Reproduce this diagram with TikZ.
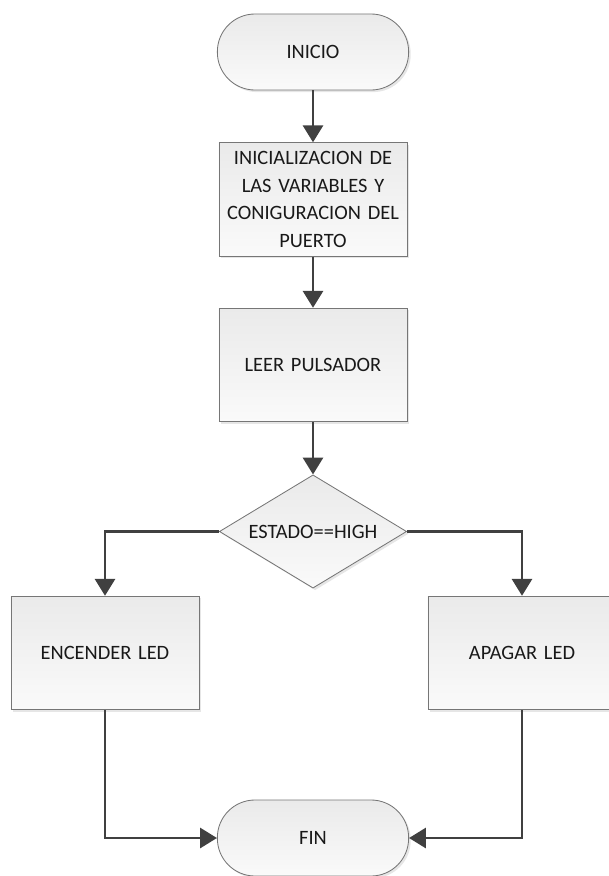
\documentclass[tikz,border=0pt]{standalone}
\usepackage{fontspec}
\setmainfont{Carlito}
\usepackage{tikz}
\usetikzlibrary{shapes.geometric, arrows.meta, positioning, shadows}
\definecolor{myline}{RGB}{64,64,64}
\definecolor{myborder}{RGB}{118,118,118}
\definecolor{mytop}{RGB}{234,234,234}
\definecolor{mybot}{RGB}{250,250,250}
\definecolor{mytext}{RGB}{25,25,25}
\tikzset{
  proc/.style={rectangle, draw=myborder, top color=mytop, bottom color=mybot,
    text width=4.5cm, align=center, minimum width=4.7cm, minimum height=2.84cm,
    font=\fontsize{14.5}{19.5}\selectfont, text=mytext, line width=0.6pt,
    inner sep=0pt, drop shadow={shadow xshift=1.5pt, shadow yshift=-1.5pt, opacity=0.2}},
  term/.style={rectangle, rounded corners=0.94cm, draw=myborder, top color=mytop, bottom color=mybot,
    align=center, minimum width=4.78cm, minimum height=1.9cm,
    font=\fontsize{14.5}{19.5}\selectfont, text=mytext, line width=0.6pt,
    drop shadow={shadow xshift=1.5pt, shadow yshift=-1.5pt, opacity=0.2}},
  decision/.style={diamond, aspect=1.65, draw=myborder, top color=mytop, bottom color=mybot,
    align=center, minimum width=4.68cm, minimum height=2.83cm, inner sep=0pt,
    font=\fontsize{14.5}{19.5}\selectfont, text=mytext, line width=0.6pt,
    drop shadow={shadow xshift=1.5pt, shadow yshift=-1.5pt, opacity=0.2}},
  arrow/.style={-{Triangle[length=0.42cm, width=0.5cm]}, line width=1.8pt, color=myline},
  line/.style={line width=1.8pt, color=myline}
}

\begin{document}
\begin{tikzpicture}[x=0.025cm, y=-0.025cm]
\useasboundingbox (0,0) rectangle (608,876);

\node[term] (inicio) at (313,52) {INICIO};
\node[proc] (init) at (313,199.5) {INICIALIZACION DE\\LAS VARIABLES Y\\CONIGURACION DEL\\PUERTO};
\node[proc] (leer) at (313,365) {LEER PULSADOR};
\node[decision] (estado) at (313,531.5) {ESTADO==HIGH};
\node[proc] (encender) at (105,653) {ENCENDER LED};
\node[proc] (apagar) at (522,653) {APAGAR LED};
\node[term] (fin) at (313,838) {FIN};

\draw[arrow] (inicio) -- (init);
\draw[arrow] (init) -- (leer);
\draw[arrow] (leer) -- (estado);
\draw[arrow] (estado.west) -| (encender);
\draw[arrow] (estado.east) -| (apagar);
\draw[arrow] (encender) |- (fin);
\draw[arrow] (apagar) |- (fin);
\end{tikzpicture}
\end{document}
